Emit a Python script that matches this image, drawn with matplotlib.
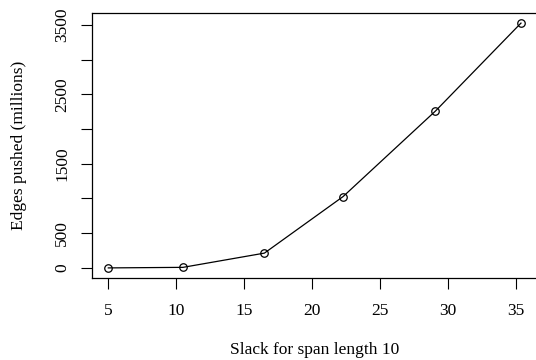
import matplotlib
matplotlib.use("Agg")
import matplotlib.pyplot as plt

# slack values and edges pushed (millions)
slack = [5.0, 10.5, 16.5, 22.3, 29.1, 35.4]
edges = [0, 8, 213, 1028, 2259, 3525]

yticks = [0, 500, 1000, 1500, 2000, 2500, 3000, 3500]
ylabels = ["0", "500", "", "1500", "", "2500", "", "3500"]
xticks = [5, 10, 15, 20, 25, 30, 35]

plt.rcParams['font.family'] = ['Liberation Serif', 'DejaVu Serif']

W, H = 536, 360
fig = plt.figure(figsize=(W / 100, H / 100), dpi=100)
# plot box in pixels: left 91.8, right ~537 (cut off by the image edge), top 13.3, bottom 277.7
l, r, t, b = 91.8, 537.5, 13.3, 277.7
ax = fig.add_axes([l / W, 1 - b / H, (r - l) / W, (b - t) / H])

ax.plot(slack, edges, color='black', linewidth=0.9, marker='o', markersize=5.4,
        markerfacecolor='none', markeredgewidth=0.9)

# R style 4% padding on both axes
xr = max(slack) - min(slack)
ax.set_xlim(min(slack) - 0.04 * xr, max(slack) + 0.04 * xr)
yr = max(edges) - min(edges)
ax.set_ylim(min(edges) - 0.04 * yr, max(edges) + 0.04 * yr)

ax.set_xticks(xticks)
ax.set_xticklabels([str(v) for v in xticks])
ax.set_yticks(yticks)
ax.set_yticklabels(ylabels, rotation=90, va='center')

ax.tick_params(axis='both', direction='out', length=8, width=0.8, labelsize=12.5, color='black')
ax.tick_params(axis='x', pad=10)
ax.tick_params(axis='y', pad=7.5)

for s in ax.spines.values():
    s.set_linewidth(0.9)

ax.set_xlabel("Slack for span length 10", fontsize=12.5, labelpad=17)
ax.set_ylabel("Edges pushed (millions)", fontsize=12.5, labelpad=19.5)

fig.savefig("out.png", dpi=100)
